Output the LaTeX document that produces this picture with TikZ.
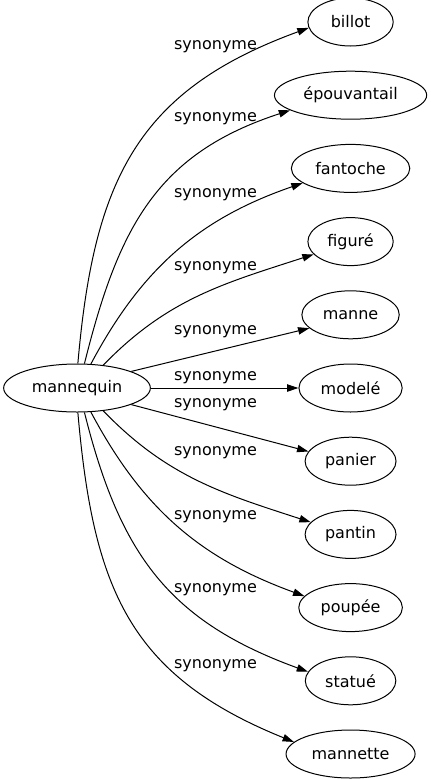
\documentclass[tikz,border=0pt]{standalone}
\usepackage{fontspec}
\setmainfont{DejaVu Sans}
\usetikzlibrary{positioning,arrows.meta,shapes.geometric}

\tikzset{
  word/.style={draw, ellipse, line width=0.75pt, inner xsep=5pt, inner ysep=2pt,
    minimum width=64pt, minimum height=36pt, font=\fontsize{12pt}{14pt}\selectfont},
  rel/.style={inner sep=0pt, font=\fontsize{12pt}{14pt}\selectfont},
  syn/.style={line width=0.75pt, -{Triangle[length=8.5pt,width=5.5pt]}}
}

\begin{document}
\begin{tikzpicture}[x=0.75pt,y=-0.75pt]
            \useasboundingbox (0,0) rectangle (431,779);
            \node[word] (mannequin) at (77,388) {mannequin};
            \node[word, right=110.7pt of mannequin] (modele) {modelé};
            \node[word, above=18.15pt of modele] (manne) {manne};
            \node[word, above=18.15pt of manne] (figure) {figuré};
            \node[word, above=18.15pt of figure] (fantoche) {fantoche};
            \node[word, above=18.15pt of fantoche] (epouvantail) {épouvantail};
            \node[word, above=18.15pt of epouvantail] (billot) {billot};
            \node[word, below=18.15pt of modele] (panier) {panier};
            \node[word, below=18.15pt of panier] (pantin) {pantin};
            \node[word, below=18.15pt of pantin] (poupee) {poupée};
            \node[word, below=18.15pt of poupee] (statue) {statué};
            \node[word, below=18.15pt of statue] (mannette) {mannette};

            \draw[syn] (mannequin.88) to[out=85,in=200,looseness=1.15] (billot.188);
            \draw[syn] (mannequin.73) to[out=76,in=198,looseness=1.1] (epouvantail.194);
            \draw[syn] (mannequin.60) to[out=62,in=199] (fantoche.197);
            \draw[syn] (mannequin.41) to[out=46,in=198] (figure.199);
            \draw[syn] (mannequin.17) -- (manne.198);
            \draw[syn] (mannequin) -- (modele);
            \draw[syn] (mannequin.343) -- (panier.167);
            \draw[syn] (mannequin.319) to[out=-46,in=162] (pantin.163);
            \draw[syn] (mannequin.300) to[out=-62,in=160] (poupee.166);
            \draw[syn] (mannequin.287) to[out=-76,in=160,looseness=1.1] (statue.168);
            \draw[syn] (mannequin.272) to[out=-85,in=158,looseness=1.15] (mannette.168);

            \node[rel] (l1) at (215.5,47) {synonyme};
            \node[rel] (l2) at (215.5,119) {synonyme};
            \node[rel] (l3) at (215.5,195) {synonyme};
            \node[rel] (l4) at (215.5,268) {synonyme};
            \node[rel] (l5) at (215.5,332) {synonyme};
            \node[rel] (l6) at (215.5,378) {synonyme};
            \node[rel] (l7) at (215.5,405) {synonyme};
            \node[rel] (l8) at (215.5,453) {synonyme};
            \node[rel] (l9) at (215.5,517) {synonyme};
            \node[rel] (l10) at (215.5,590) {synonyme};
            \node[rel] (l11) at (215.5,666) {synonyme};
        \end{tikzpicture}
\end{document}
